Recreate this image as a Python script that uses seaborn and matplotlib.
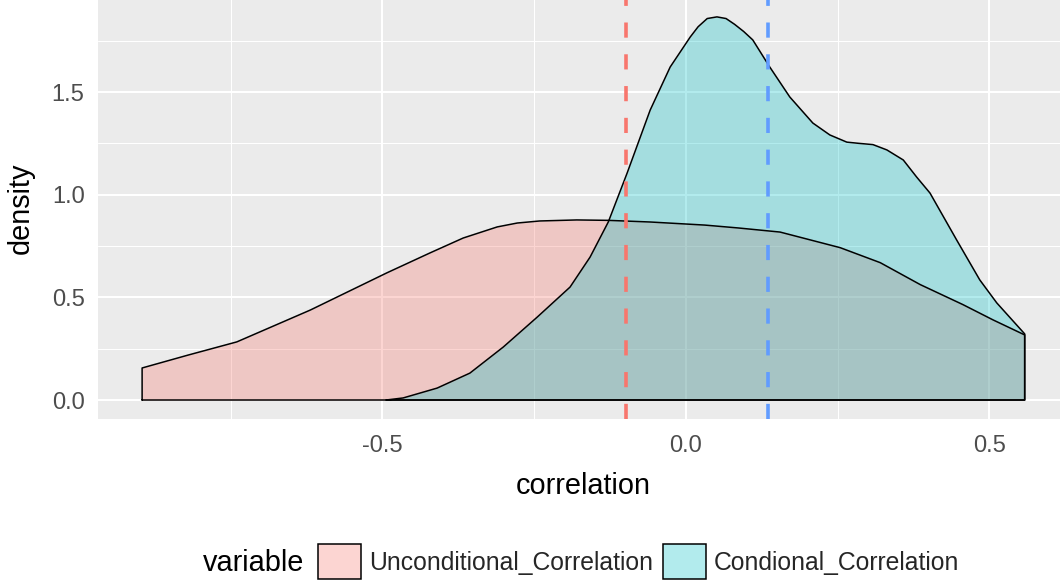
import numpy as np
import pandas as pd
import matplotlib
matplotlib.use("Agg")
import matplotlib.pyplot as plt
from matplotlib.colors import to_rgba
from matplotlib.patches import Patch
import seaborn as sns

# ---- data ----
series_names = ["Unconditional_Correlation", "Condional_Correlation"]
series_colors = ["#F8766D", "#00BFC4"]
mean_colors = ["#F8766D", "#619CFF"]

uncond_x = [-0.896, -0.820, -0.740, -0.619, -0.493, -0.422, -0.367, -0.311, -0.278,
            -0.241, -0.180, -0.128, -0.059, 0.031, 0.086, 0.155, 0.254, 0.320,
            0.386, 0.456, 0.506, 0.558]
uncond_y = [0.156, 0.219, 0.283, 0.438, 0.619, 0.716, 0.789, 0.843, 0.862,
            0.872, 0.877, 0.875, 0.867, 0.852, 0.838, 0.818, 0.742, 0.669,
            0.562, 0.465, 0.390, 0.317]

cond_x = [-0.494, -0.466, -0.410, -0.356, -0.301, -0.245, -0.191, -0.158, -0.128,
          -0.097, -0.059, -0.026, 0.007, 0.020, 0.035, 0.051, 0.066, 0.080,
          0.095, 0.110, 0.138, 0.171, 0.209, 0.237, 0.265, 0.285, 0.308,
          0.331, 0.358, 0.380, 0.402, 0.446, 0.484, 0.512, 0.558]
cond_y = [0.000, 0.010, 0.058, 0.131, 0.258, 0.404, 0.550, 0.696, 0.867,
          1.105, 1.412, 1.622, 1.768, 1.818, 1.858, 1.866, 1.858, 1.830,
          1.795, 1.754, 1.622, 1.476, 1.349, 1.291, 1.256, 1.250, 1.244,
          1.218, 1.169, 1.086, 1.008, 0.779, 0.585, 0.473, 0.322]

means = [-0.099, 0.135]

x_ticks = [-0.5, 0.0, 0.5]
x_tick_labels = ["-0.5", "0.0", "0.5"]
y_ticks = [0.0, 0.5, 1.0, 1.5]
y_tick_labels = ["0.0", "0.5", "1.0", "1.5"]
x_minor = [-0.75, -0.25, 0.25, 0.75]
y_minor = [0.25, 0.75, 1.25, 1.75]

# ---- style ----
sns.set_theme(style="darkgrid", rc={
    "axes.facecolor": "#EBEBEB",
    "figure.facecolor": "white",
    "grid.color": "white",
    "axes.edgecolor": "none",
})
plt.rcParams["font.family"] = ["Liberation Sans", "DejaVu Sans"]
plt.rcParams["axes.unicode_minus"] = False

fig = plt.figure(figsize=(10.6, 5.88), dpi=100)
W, H = 1060, 588
x0p, x1p, y0p, y1p = 97.8, 1069.0, 419.1, -2.2
ax = fig.add_axes([x0p / W, 1 - y0p / H, (x1p - x0p) / W, (y0p - y1p) / H])
ax.set_axisbelow(True)

series = [(uncond_x, uncond_y), (cond_x, cond_y)]
for (xs, ys), col in zip(series, series_colors):
    ax.fill_between(xs, ys, 0, facecolor=to_rgba(col, 0.3), lw=0, zorder=2)
    ox = [xs[0]] + list(xs) + [xs[-1], xs[0]]
    oy = [0.0] + list(ys) + [0.0, 0.0]
    outline = pd.DataFrame({"x": ox, "y": oy})
    sns.lineplot(data=outline, x="x", y="y", sort=False, estimator=None,
                 color="black", lw=1.1, ax=ax, zorder=3)

for m, c in zip(means, mean_colors):
    ax.axvline(m, color=c, lw=2.6, dashes=(4.2, 4.6), zorder=4)

ax.set_xticks(x_ticks)
ax.set_xticklabels(x_tick_labels)
ax.set_yticks(y_ticks)
ax.set_yticklabels(y_tick_labels)
ax.set_xticks(x_minor, minor=True)
ax.set_yticks(y_minor, minor=True)
ax.set_xlim(-0.969, 0.631)
ax.set_ylim(-0.093, 1.959)
ax.grid(which="major", color="white", lw=1.5)
ax.grid(which="minor", color="white", lw=0.75)
ax.tick_params(which="major", length=5, width=1.1, color="#333333",
               labelsize=17.1, labelcolor="#4D4D4D")
ax.tick_params(axis="x", pad=6.5)
ax.tick_params(axis="y", pad=4.5)
ax.tick_params(which="minor", length=0)
for s in ax.spines.values():
    s.set_visible(False)

ax.set_xlabel("correlation", fontsize=20.8, color="black", labelpad=11)
ax.set_ylabel("density", fontsize=20.8, color="black", labelpad=12)

# legend
handles = [Patch(facecolor=to_rgba(c, 0.3), edgecolor="black", lw=1.1)
           for c in series_colors]
fig.legend(handles, series_names, loc="center left",
           bbox_to_anchor=(318 / W, 1 - 561.5 / H), ncol=2, frameon=False,
           fontsize=17.8, handlelength=1.75, handleheight=1.75,
           handletextpad=0.32, columnspacing=0.4, borderpad=0, borderaxespad=0)
fig.text(203 / W, 1 - 563 / H, "variable", fontsize=20.8, ha="left",
         va="center", color="black")

fig.savefig("out.png", dpi=100)
